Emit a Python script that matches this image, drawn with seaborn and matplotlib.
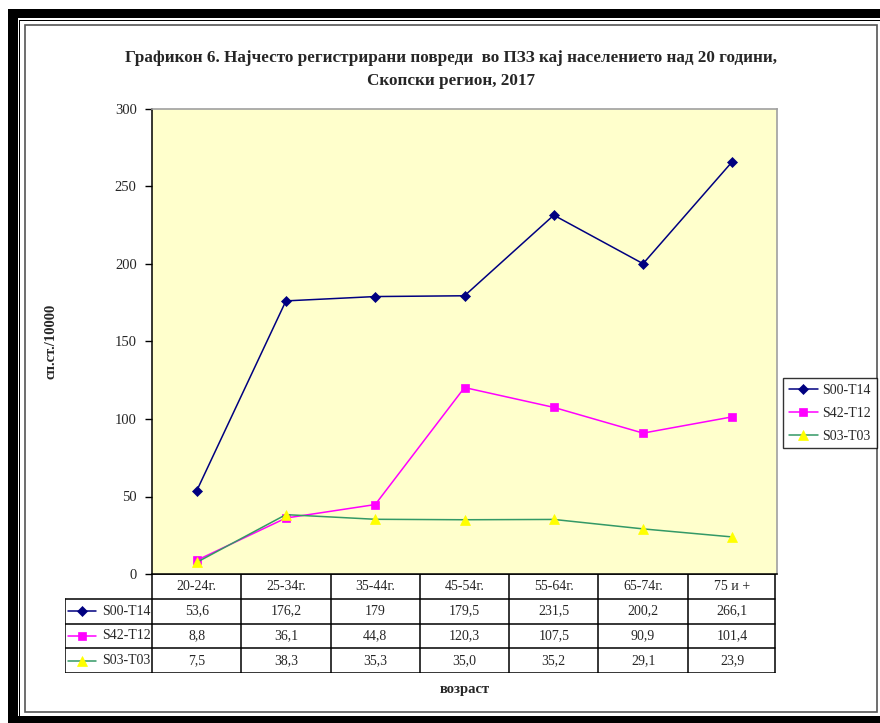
import matplotlib
matplotlib.use("Agg")
import matplotlib.pyplot as plt
from matplotlib.patches import Rectangle
from matplotlib.lines import Line2D
import numpy as np
import pandas as pd
import seaborn as sns

# ---- data ----
age_groups = ["20-24г.", "25-34г.", "35-44г.", "45-54г.", "55-64г.", "65-74г.", "75 и +"]
s00_t14 = [53.6, 176.2, 179, 179.5, 231.5, 200.2, 266.1]
s42_t12 = [8.8, 36.1, 44.8, 120.3, 107.5, 90.9, 101.4]
s03_t03 = [7.5, 38.3, 35.3, 35.0, 35.2, 29.1, 23.9]
series_names = ["S00-T14", "S42-T12", "S03-T03"]
table_text = [
    ["53,6", "176,2", "179", "179,5", "231,5", "200,2", "266,1"],
    ["8,8", "36,1", "44,8", "120,3", "107,5", "90,9", "101,4"],
    ["7,5", "38,3", "35,3", "35,0", "35,2", "29,1", "23,9"],
]
y_ticks = [0, 50, 100, 150, 200, 250, 300]

sns.set_style("white")
plt.rcParams["font.family"] = ["Liberation Serif", "DejaVu Serif"]

W, H = 880, 723
fig = plt.figure(figsize=(W / 100, H / 100), dpi=100)
fig.patch.set_facecolor("white")


def fx(px):
    return px / W


def fy(py):
    return 1 - py / H


# ---- page frame ----
frame = [
    (8, 9, 10, 714, "black"),     # left thick bar
    (8, 9, 872, 9, "black"),      # top thick bar
    (17, 716, 863, 7, "black"),   # bottom thick bar
    (18.5, 19.5, 861.5, 1.5, "black"),
    (18.5, 19.5, 1.5, 696, "black"),
]
for x0, y0, w, h, c in frame:
    fig.patches.append(Rectangle((fx(x0), fy(y0 + h)), w / W, h / H,
                                 transform=fig.transFigure, color=c, lw=0, zorder=0))
fig.patches.append(Rectangle((fx(25), fy(712)), (877 - 25) / W, (712 - 25) / H,
                             transform=fig.transFigure, fill=False,
                             edgecolor="#555555", lw=1.2, zorder=0))

# ---- main plot ----
L, R, T, B = 152, 777, 109, 574
ax = fig.add_axes([fx(L), fy(B), (R - L) / W, (B - T) / H])
ax.set_facecolor("#FFFFCC")

x_pos = np.arange(len(age_groups))
df = pd.DataFrame({
    "pos": np.tile(x_pos, 3),
    "value": s00_t14 + s42_t12 + s03_t03,
    "series": np.repeat(series_names, len(age_groups)),
})

styles = {
    "S00-T14": dict(color="#000080", marker="D", markersize=5, mfc="#000080", mec="#000080"),
    "S42-T12": dict(color="#FF00FF", marker="s", markersize=6, mfc="#FF00FF", mec="#FF00FF"),
    "S03-T03": dict(color="#339966", marker="^", markersize=7.5, mfc="#FFFF00", mec="#FFFF00"),
}
for name in series_names:
    st = styles[name]
    sns.lineplot(data=df[df["series"] == name], x="pos", y="value", ax=ax,
                 color=st["color"], marker=st["marker"], markersize=st["markersize"],
                 markerfacecolor=st["mfc"], markeredgecolor=st["mec"],
                 markeredgewidth=0.5, linewidth=1.1, label=name, legend=False)

ax.set_xlim(-0.5, len(age_groups) - 0.5)
ax.set_ylim(0, 300)
ax.set_yticks(y_ticks)
ax.set_yticklabels([str(v) for v in y_ticks], fontsize=10.5)
ax.set_xticks([])
ax.set_xlabel("")
ax.set_ylabel("")
ax.tick_params(axis="y", direction="out", length=5, width=1, color="black", pad=6, left=True)
for side in ["top", "right"]:
    ax.spines[side].set_color("#A0A0A0")
    ax.spines[side].set_linewidth(1.2)
ax.spines["left"].set_color("black")
ax.spines["left"].set_linewidth(1.1)
ax.spines["bottom"].set_color("black")
ax.spines["bottom"].set_linewidth(1.1)

# ---- data table beneath the plot ----
unit = (R - L) / len(age_groups)
TL, TB = 65, 673
tab = fig.add_axes([fx(TL), fy(TB), (R - TL) / W, (TB - B) / H])
x_left = -0.5 - (L - TL) / unit
x_right = -0.5 + (775 - L) / unit
tab.set_xlim(x_left, len(age_groups) - 0.5)
tab.set_ylim(4, 0)
tab.axis("off")

lw = 1.1
tab.plot([-0.5, x_right], [0, 0], color="black", lw=lw)
for r in range(1, 5):
    tab.plot([x_left, x_right], [r, r], color="black", lw=lw)
tab.plot([x_left, x_left], [1, 4], color="black", lw=lw)
for k in range(len(age_groups)):
    tab.plot([k - 0.5, k - 0.5], [0, 4], color="black", lw=lw)
tab.plot([x_right, x_right], [0, 4], color="black", lw=lw)

fs_tab = 10
for i, lab in enumerate(age_groups):
    tab.text(i, 0.5, lab, ha="center", va="center", fontsize=fs_tab)
for r, row in enumerate(table_text):
    for i, val in enumerate(row):
        tab.text(i, r + 1.5, val, ha="center", va="center", fontsize=fs_tab)


def u(px):
    return -0.5 + (px - L) / unit


for r, name in enumerate(series_names):
    st = styles[name]
    tab.add_line(Line2D([u(68), u(96)], [r + 1.5, r + 1.5], color=st["color"], lw=1.1))
    tab.plot([u(82)], [r + 1.5], marker=st["marker"], markersize=st["markersize"],
             mfc=st["mfc"], mec=st["mec"], mew=0.5, linestyle="none")
    tab.text(u(102), r + 1.5, name, ha="left", va="center", fontsize=fs_tab)

# ---- legend on the right ----
handles = [Line2D([0], [0], color=styles[n]["color"], lw=1.1, marker=styles[n]["marker"],
                  markersize=styles[n]["markersize"], mfc=styles[n]["mfc"],
                  mec=styles[n]["mec"], mew=0.5) for n in series_names]
leg = fig.legend(handles, series_names, loc="upper left",
                 bbox_to_anchor=(fx(783), fy(378)), frameon=True, fancybox=False,
                 edgecolor="black", fontsize=10, handlelength=2.1, handletextpad=0.35,
                 borderpad=0.4, labelspacing=0.72, borderaxespad=0)
leg.get_frame().set_linewidth(1.0)

# ---- titles ----
fig.text(fx(451), fy(58), "Графикон 6. Најчесто регистрирани повреди  во ПЗЗ кај населението над 20 години,",
         ha="center", va="center", fontsize=12.3, fontweight="bold")
fig.text(fx(451), fy(81), "Скопски регион, 2017",
         ha="center", va="center", fontsize=12.3, fontweight="bold")
fig.text(fx(51), fy(341), "сп.ст./10000", rotation=90, ha="center", va="center",
         fontsize=10.5, fontweight="bold")
fig.text(fx(465), fy(690), "возраст", ha="center", va="center",
         fontsize=10.5, fontweight="bold")

fig.savefig("out.png", dpi=100)
